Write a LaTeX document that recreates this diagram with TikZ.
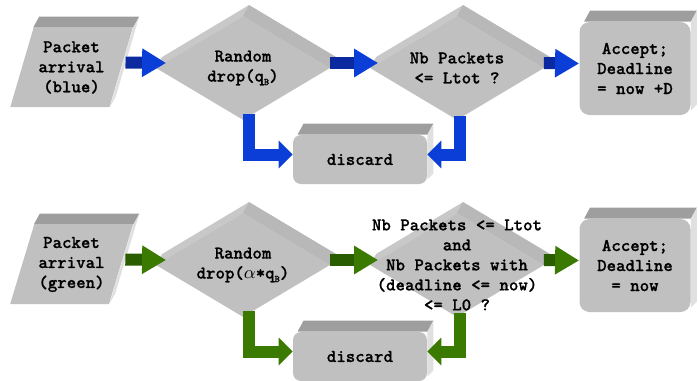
\documentclass[tikz,border=0pt]{standalone}
\usepackage{fontspec}
\newfontfamily\courfont{lmmonolt10-bold.otf}[FakeBold=0.8]
\usetikzlibrary{arrows.meta,shapes.geometric,backgrounds}

\definecolor{frontgray}{RGB}{192,192,192}
\definecolor{topgray}{RGB}{158,158,158}
\definecolor{sidegray}{RGB}{224,224,224}
\definecolor{dbackgray}{RGB}{200,200,200}
\definecolor{dbandgray}{RGB}{184,184,184}
\definecolor{blueD}{RGB}{12,42,160}
\definecolor{blueL}{RGB}{10,62,215}
\definecolor{greenD}{RGB}{42,92,0}
\definecolor{greenL}{RGB}{58,122,0}

\newcommand{\lbl}{\courfont\fontsize{9}{10}\selectfont}
\newcommand{\qB}{q\raisebox{-0.45ex}{\fontsize{5}{5}\selectfont B}}

\tikzset{
  face/.style={fill=frontgray, draw=none},
  txt/.style={font=\lbl, align=center, inner sep=0pt},
  inbox/.style={face, trapezium, trapezium stretches=true,
    trapezium left angle=69, trapezium right angle=111,
    minimum width=61.5pt, minimum height=39.5pt, txt},
  test/.style={face, diamond, minimum width=86.5pt, minimum height=51.5pt, inner sep=0pt},
  endbox/.style={face, rectangle, rounded corners=5pt, minimum width=55.5pt, minimum height=46.5pt, txt},
  dropbox/.style={face, rectangle, rounded corners=4pt, minimum width=67pt, minimum height=24.5pt, txt},
  flow/.style={line width=6pt},
  bflow/.style={flow, draw=blueD, -{Triangle[color=blueL, width=13.5pt, length=12pt]}},
  bflowL/.style={flow, draw=blueL, -{Triangle[color=blueL, width=13.5pt, length=7pt]}},
  gflow/.style={flow, draw=greenD, -{Triangle[color=greenL, width=13.5pt, length=12pt]}},
  gflowL/.style={flow, draw=greenL, -{Triangle[color=greenL, width=13.5pt, length=7pt]}},
}

\begin{document}
\begin{tikzpicture}[x=0.5pt, y=-0.5pt]
  \useasboundingbox (0,0) rectangle (698,381);

  % blue packets
  \node[inbox] (in1) at (71.5,67.5) {Packet\\arrival\\(blue)};
  \node[test] (drop1) at (243,68) {};
  \node[txt] (drop1t) at (drop1) {Random\\drop(\qB)};
  \node[test] (nb1) at (457,68) {};
  \node[txt] (nb1t) at (nb1) {Nb Packets\\<= Ltot ?};
  \node[endbox] (acc1) at (635,68.5) {Accept;\\Deadline\\= now +D};
  \node[dropbox] (dis1) at (360,159.5) {discard};

  % green packets
  \node[inbox] (in2) at (71.5,264.5) {Packet\\arrival\\(green)};
  \node[test] (drop2) at (243,265) {};
  \node[txt] (drop2t) at (drop2) {Random\\drop($\alpha$*\qB)};
  \node[test] (nb2) at (457,265) {};
  \node[txt] (nb2t) at (nb2) {Nb Packets <= Ltot\\and\\Nb Packets with\\(deadline <= now)\\<= L0 ?};
  \node[endbox] (acc2) at (635,265.5) {Accept;\\Deadline\\= now};
  \node[dropbox] (dis2) at (360,356.5) {discard};

  % depth faces
  \begin{scope}[on background layer]
    \foreach \n in {in1,in2} {
      \fill[topgray] (\n.top left corner) -- ++(6,-11) -- ([shift={(6,-11)}]\n.top right corner) -- (\n.top right corner) -- cycle;
      \fill[sidegray] (\n.top right corner) -- ++(6,-11) -- ([shift={(6,-11)}]\n.bottom right corner) -- (\n.bottom right corner) -- cycle;
    }
    \foreach \n in {acc1,dis1,acc2,dis2} {
      \fill[topgray] ([xshift=2.5pt]\n.north west) -- ++(6,-11) -- ([shift={(6,-11)}]\n.north east) -- (\n.north east) -- cycle;
      \fill[sidegray] (\n.north east) -- ++(6,-11) -- ([shift={(6,-11)}]\n.south east) -- ([yshift=2.5pt]\n.south east) -- cycle;
    }
    \foreach \n in {drop1,nb1,drop2,nb2} {
      \fill[dbackgray] (\n.west) -- ([shift={(6,-11)}]\n.west) -- ([shift={(6,-11)}]\n.north) -- ([shift={(6,-11)}]\n.east) -- (\n.east) -- (\n.south) -- cycle;
      \fill[dbandgray] (\n.north) -- ([shift={(6,-11)}]\n.north) -- ([shift={(6,-11)}]\n.east) -- (\n.east) -- cycle;
    }
  \end{scope}

  % blue flow
  \draw[bflow] ([xshift=2pt,yshift=2.5pt]in1.east) -- ([xshift=5pt,yshift=2.5pt]drop1.west);
  \draw[bflow] ([yshift=2.5pt]drop1.east) -- ([xshift=4pt,yshift=2.5pt]nb1.west);
  \draw[bflow] ([yshift=2.5pt]nb1.east) -- ([yshift=2.5pt]acc1.west);
  \draw[bflowL, shorten <=-3pt] ([xshift=3pt]drop1.south) |- ([yshift=2.5pt]dis1.west);
  \draw[bflowL, shorten <=-2pt] ([xshift=1.5pt]nb1.south) |- ([yshift=2.5pt]dis1.east);

  % green flow
  \draw[gflow] ([xshift=2pt,yshift=2.5pt]in2.east) -- ([xshift=5pt,yshift=2.5pt]drop2.west);
  \draw[gflow] ([yshift=2.5pt]drop2.east) -- ([xshift=4pt,yshift=2.5pt]nb2.west);
  \draw[gflow] ([yshift=2.5pt]nb2.east) -- ([yshift=2.5pt]acc2.west);
  \draw[gflowL, shorten <=-3pt] ([xshift=3pt]drop2.south) |- ([yshift=2.5pt]dis2.west);
  \draw[gflowL, shorten <=-2pt] ([xshift=1.5pt]nb2.south) |- ([yshift=2.5pt]dis2.east);
\end{tikzpicture}
\end{document}
